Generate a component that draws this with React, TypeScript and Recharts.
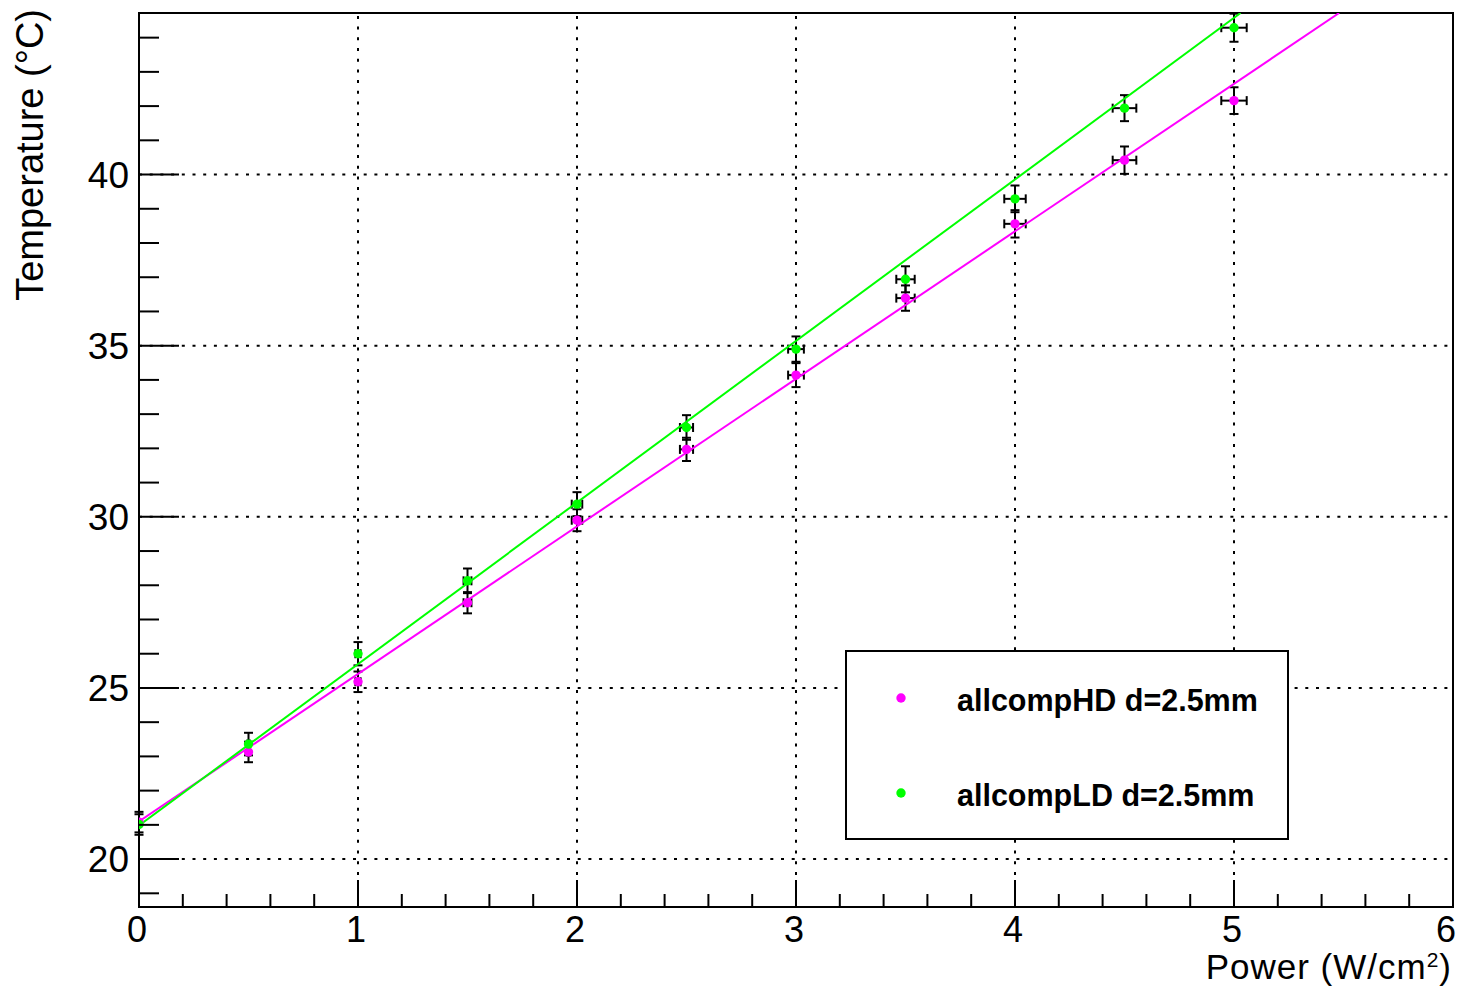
import { ScatterChart, Scatter, XAxis, YAxis, ErrorBar, ReferenceLine, ReferenceArea, Legend } from 'recharts';

// measurements: power density (W/cm2) vs temperature (°C)
const powers = [0, 0.5, 1, 1.5, 2, 2.5, 3, 3.5, 4, 4.5, 5];
const powerErr = [0, 0.006, 0.012, 0.018, 0.024, 0.03, 0.036, 0.042, 0.049, 0.054, 0.058];
const tempHD = [21.08, 23.13, 25.18, 27.49, 29.9, 31.97, 34.14, 36.39, 38.56, 40.42, 42.16];
const tempErrHD = [0.3, 0.3, 0.3, 0.31, 0.32, 0.34, 0.35, 0.37, 0.4, 0.4, 0.39];
const tempLD = [21.01, 23.36, 26.0, 28.13, 30.37, 32.61, 34.9, 36.94, 39.29, 41.94, 44.29];
const tempErrLD = [0.3, 0.33, 0.34, 0.36, 0.35, 0.36, 0.37, 0.38, 0.39, 0.38, 0.41];

// linear fits (end points where the line leaves the frame)
const fitHD = [{ x: 0, y: 21.1 }, { x: 5.48, y: 44.72 }];
const fitLD = [{ x: 0, y: 20.98 }, { x: 5.03, y: 44.72 }];

const seriesNames = ['allcompHD d=2.5mm', 'allcompLD d=2.5mm'];
const seriesColors = ['#ff00ff', '#00ff00'];

const xTicks = [
  0, 0.2, 0.4, 0.6, 0.8, 1, 1.2, 1.4, 1.6, 1.8, 2, 2.2, 2.4, 2.6, 2.8, 3,
  3.2, 3.4, 3.6, 3.8, 4, 4.2, 4.4, 4.6, 4.8, 5, 5.2, 5.4, 5.6, 5.8, 6,
];
const xGrid = [1, 2, 3, 4, 5];
const yTicks = [
  19, 20, 21, 22, 23, 24, 25, 26, 27, 28, 29, 30, 31, 32,
  33, 34, 35, 36, 37, 38, 39, 40, 41, 42, 43, 44,
];
const yMajor = [20, 25, 30, 35, 40];
const yMin = 18.6;
const yMax = 44.72;

const hdData = powers.map((p, i) => ({ x: p, y: tempHD[i], ex: powerErr[i], ey: tempErrHD[i] }));
const ldData = powers.map((p, i) => ({ x: p, y: tempLD[i], ex: powerErr[i], ey: tempErrLD[i] }));

const FONT = '"Liberation Sans", Arial, Helvetica, sans-serif';

const YTick = (props: any) => {
  const { x, y, payload } = props;
  const major = yMajor.includes(payload.value);
  return (
    <g>
      <line x1={x} x2={x + (major ? 40 : 20)} y1={y} y2={y} stroke="#000" strokeWidth={2} />
      {major && (
        <text x={x - 10} y={y + 13} textAnchor="end" fontSize={37} fill="#000">
          {payload.value}
        </text>
      )}
    </g>
  );
};

const XTick = (props: any) => {
  const { x, y, payload } = props;
  const major = Number.isInteger(payload.value);
  // the last label is pulled in so it stays inside the page
  const shift = payload.value === 6 ? -7 : -2;
  return (
    <g>
      <line x1={x} x2={x} y1={y} y2={y - (major ? 27 : 13)} stroke="#000" strokeWidth={2} />
      {major && (
        <text x={x + shift} y={y + 35} textAnchor="middle" fontSize={36} fill="#000">
          {payload.value}
        </text>
      )}
    </g>
  );
};

const dot = (color: string) => (p: any) => <circle cx={p.cx} cy={p.cy} r={4.7} fill={color} />;
const noShape = () => <g />;

const LegendBox = () => (
  <svg width={444} height={190}>
    <rect x={1} y={1} width={442} height={188} fill="#fff" stroke="#000" strokeWidth={2} />
    {seriesNames.map((name, i) => (
      <g key={name}>
        <circle cx={56} cy={48 + i * 95} r={4.7} fill={seriesColors[i]} />
        <text x={112} y={61 + i * 95} fontSize={30.5} fontWeight="bold" fill="#000" style={{ fontFamily: FONT }}>
          {name}
        </text>
      </g>
    ))}
  </svg>
);

export default function App() {
  return (
    <ScatterChart
      width={1450}
      height={980}
      margin={{ top: 5, right: 5, left: 0, bottom: 0 }}
      style={{ fontFamily: FONT }}
    >
      <XAxis
        type="number"
        dataKey="x"
        domain={[0, 6]}
        ticks={xTicks}
        interval={0}
        allowDataOverflow
        tickSize={0}
        tickMargin={0}
        tickLine={false}
        tick={<XTick />}
        height={81}
        axisLine={{ stroke: '#000', strokeWidth: 2 }}
        label={{
          content: (p: any) => (
            <text
              x={p.viewBox.x + p.viewBox.width - 1}
              y={p.viewBox.y + 72}
              textAnchor="end"
              fontSize={35}
              letterSpacing={1}
              fill="#000"
            >
              Power (W/cm<tspan dy={-12} fontSize={21}>2</tspan>
              <tspan dy={12}>)</tspan>
            </text>
          ),
        }}
      />
      <YAxis
        type="number"
        dataKey="y"
        domain={[yMin, yMax]}
        ticks={yTicks}
        interval={0}
        allowDataOverflow
        tickSize={0}
        tickMargin={0}
        tickLine={false}
        tick={<YTick />}
        width={131}
        axisLine={{ stroke: '#000', strokeWidth: 2 }}
        label={{
          content: (p: any) => (
            <text
              transform={`translate(35, ${p.viewBox.y - 4}) rotate(-90)`}
              textAnchor="end"
              fontSize={38}
              fill="#000"
            >
              Temperature (°C)
            </text>
          ),
        }}
      />
      {xGrid.map((v) => (
        <ReferenceLine key={'x' + v} x={v} stroke="#000" strokeWidth={2} strokeDasharray="3 7.7" />
      ))}
      {yMajor.map((v) => (
        <ReferenceLine key={'y' + v} y={v} stroke="#000" strokeWidth={2} strokeDasharray="3 7.7" />
      ))}
      <ReferenceArea x1={0} x2={6} y1={yMin} y2={yMax} fill="none" stroke="#000" strokeWidth={2} />
      <Scatter data={fitHD} line={{ stroke: seriesColors[0], strokeWidth: 2 }} shape={noShape} legendType="none" isAnimationActive={false} />
      <Scatter data={fitLD} line={{ stroke: seriesColors[1], strokeWidth: 2 }} shape={noShape} legendType="none" isAnimationActive={false} />
      <Scatter name={seriesNames[0]} data={hdData} shape={dot(seriesColors[0])} isAnimationActive={false}>
        <ErrorBar dataKey="ey" direction="y" width={4.5} stroke="#000" strokeWidth={2} />
        <ErrorBar dataKey="ex" direction="x" width={4.5} stroke="#000" strokeWidth={2} />
      </Scatter>
      <Scatter name={seriesNames[1]} data={ldData} shape={dot(seriesColors[1])} isAnimationActive={false}>
        <ErrorBar dataKey="ey" direction="y" width={4.5} stroke="#000" strokeWidth={2} />
        <ErrorBar dataKey="ex" direction="x" width={4.5} stroke="#000" strokeWidth={2} />
      </Scatter>
      <Legend
        layout="horizontal"
        verticalAlign="middle"
        align="center"
        content={() => <LegendBox />}
        wrapperStyle={{ position: 'absolute', left: 837, top: 642, width: 444, height: 190 }}
      />
    </ScatterChart>
  );
}
